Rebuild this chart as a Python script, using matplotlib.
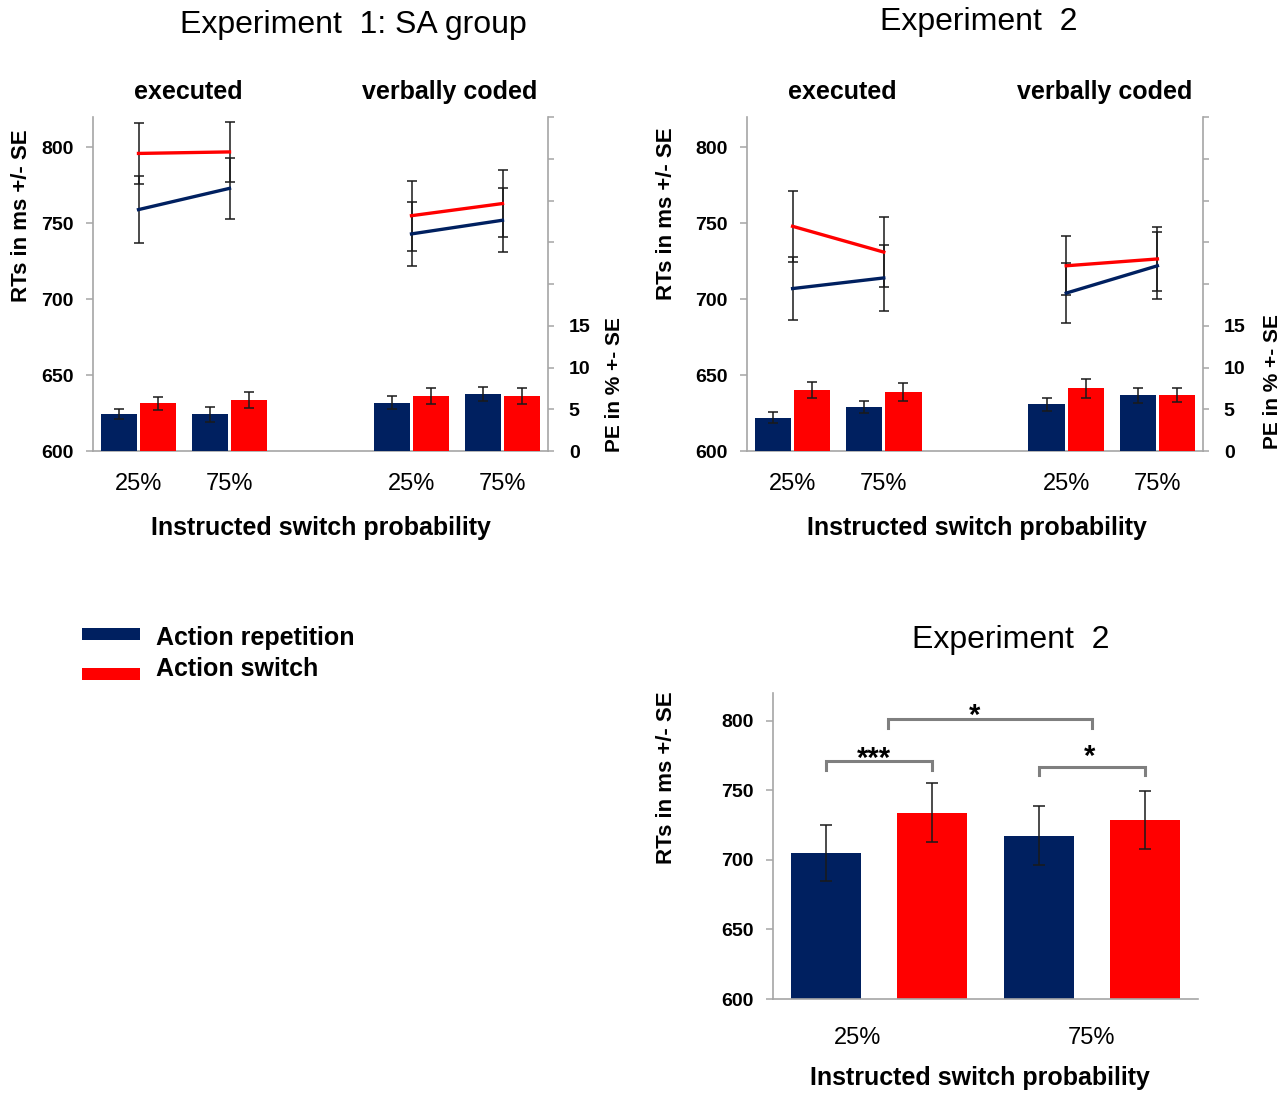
import numpy as np
import matplotlib.pyplot as plt
from matplotlib.patches import Rectangle

plt.rcParams['font.family'] = ['Liberation Sans', 'DejaVu Sans']

NAVY = '#002060'
RED = '#FF0000'
GREY = '#A6A6A6'
W, H = 1282, 1094

# ---- data (order: executed 25%, executed 75%, verbally coded 25%, verbally coded 75%)
conditions = ['executed', 'verbally coded']
probs = ['25%', '75%']
series = ['Action repetition', 'Action switch']

exp1_rt_rep = [759, 773, 743, 752]
exp1_rt_rep_se = [22, 20, 21, 21]
exp1_rt_sw = [796, 797, 755, 763]
exp1_rt_sw_se = [20, 20, 23, 22]
exp1_pe_rep = [4.4, 4.4, 5.8, 6.8]
exp1_pe_rep_se = [0.6, 0.9, 0.8, 0.85]
exp1_pe_sw = [5.7, 6.1, 6.6, 6.6]
exp1_pe_sw_se = [0.75, 0.95, 1.0, 0.95]

exp2_rt_rep = [707, 714, 704, 722]
exp2_rt_rep_se = [20.5, 21.5, 20, 22]
exp2_rt_sw = [748, 731, 722, 726.5]
exp2_rt_sw_se = [23.5, 23, 19.5, 21]
exp2_pe_rep = [4.0, 5.25, 5.6, 6.7]
exp2_pe_rep_se = [0.7, 0.7, 0.8, 0.9]
exp2_pe_sw = [7.3, 7.05, 7.5, 6.7]
exp2_pe_sw_se = [1.0, 1.05, 1.1, 0.85]

# Experiment 2, collapsed over condition
overall_rep = [705, 717.5]
overall_rep_se = [20, 21]
overall_sw = [734, 728.5]
overall_sw_se = [21, 21]

rt_ticks = [600, 650, 700, 750, 800]
pe_ticks = [0, 5, 10, 15, 20, 25, 30, 35, 40]
pe_ticklabels = ['0', '5', '10', '15', '', '', '', '', '']

# significance brackets, bottom panel: (left, right, height, label x, label y, label)
sig_brackets = [(0, 1, 771, 0.45, 767, '***'),
                (0.58, 2.5, 801, 1.4, 798, '*'),
                (2, 3, 767, 2.48, 768, '*')]


def fx(px):
    return px / W


def fy(py):
    return 1 - py / H


err_kw = dict(ecolor='#1a1a1a', elinewidth=1.1, capthick=1.1)


def top_panel(rect, rt_rep, rt_rep_se, rt_sw, rt_sw_se,
              pe_rep, pe_rep_se, pe_sw, pe_sw_se):
    ax = fig.add_axes(rect)
    x = np.array([0, 1, 3, 4])
    ax.set_xlim(-0.5, 4.5)
    ax.set_ylim(600, 820)

    ax2 = ax.twinx()
    ax2.set_ylim(0, 40)
    ax2.bar(x - 0.215, pe_rep, 0.4, color=NAVY, yerr=pe_rep_se,
            capsize=3.5, error_kw=err_kw)
    ax2.bar(x + 0.215, pe_sw, 0.4, color=RED, yerr=pe_sw_se,
            capsize=3.5, error_kw=err_kw)

    for sl in (slice(0, 2), slice(2, 4)):
        for vals, se, col in ((rt_rep, rt_rep_se, NAVY), (rt_sw, rt_sw_se, RED)):
            ax.errorbar(x[sl], np.array(vals)[sl], yerr=np.array(se)[sl],
                        color=col, lw=2.4, capsize=3.5, zorder=3, **err_kw)

    for s in ('top', 'right'):
        ax.spines[s].set_visible(False)
    for s in ('top', 'left', 'bottom'):
        ax2.spines[s].set_visible(False)
    for s in ('left', 'bottom'):
        ax.spines[s].set_color(GREY)
        ax.spines[s].set_linewidth(1.2)
    ax2.spines['right'].set_color(GREY)
    ax2.spines['right'].set_linewidth(1.2)

    ax.set_yticks(rt_ticks, [str(t) for t in rt_ticks], fontsize=14,
                  fontweight='bold')
    ax.tick_params(axis='y', direction='out', length=5, color=GREY,
                   width=1.1, pad=9)
    ax2.set_yticks(pe_ticks, pe_ticklabels, fontsize=14, fontweight='bold')
    ax2.tick_params(axis='y', direction='out', length=4, color=GREY,
                    width=1.1, pad=11)
    ax.set_xticks(x, probs * 2, fontsize=17)
    ax.tick_params(axis='x', length=0, pad=16)

    trans = ax.get_xaxis_transform()
    ax.text(0.55, 1.075, conditions[0], transform=trans, ha='center',
            va='center', fontsize=18, fontweight='bold')
    ax.text(3.42, 1.075, conditions[1], transform=trans, ha='center',
            va='center', fontsize=18, fontweight='bold')
    return ax


fig = plt.figure(figsize=(W / 100, H / 100), dpi=100)

top_panel([fx(93), fy(451), 455 / W, 334 / H],
          exp1_rt_rep, exp1_rt_rep_se, exp1_rt_sw, exp1_rt_sw_se,
          exp1_pe_rep, exp1_pe_rep_se, exp1_pe_sw, exp1_pe_sw_se)
top_panel([fx(747), fy(451), 456 / W, 334 / H],
          exp2_rt_rep, exp2_rt_rep_se, exp2_rt_sw, exp2_rt_sw_se,
          exp2_pe_rep, exp2_pe_rep_se, exp2_pe_sw, exp2_pe_sw_se)

# bottom panel
ax3 = fig.add_axes([fx(773), fy(999), 425 / W, 306 / H])
xb = np.arange(4)
ax3.bar(xb[0::2], overall_rep, 0.66, color=NAVY, yerr=overall_rep_se,
        capsize=4, error_kw=err_kw)
ax3.bar(xb[1::2], overall_sw, 0.66, color=RED, yerr=overall_sw_se,
        capsize=4, error_kw=err_kw)
ax3.set_xlim(-0.5, 3.5)
ax3.set_ylim(600, 820)
for s in ('top', 'right'):
    ax3.spines[s].set_visible(False)
for s in ('left', 'bottom'):
    ax3.spines[s].set_color(GREY)
    ax3.spines[s].set_linewidth(1.2)
ax3.set_yticks(rt_ticks, [str(t) for t in rt_ticks], fontsize=14,
               fontweight='bold')
ax3.tick_params(axis='y', direction='out', length=5, color=GREY,
                width=1.1, pad=9)
ax3.set_xticks([0.3, 2.5], probs, fontsize=17)
ax3.tick_params(axis='x', length=0, pad=20)

for x0, x1, yb, tx, ty, lab in sig_brackets:
    ax3.plot([x0, x0, x1, x1], [yb - 6, yb, yb, yb - 6], color='#7F7F7F',
             lw=2.2, solid_joinstyle='miter', clip_on=False)
    ax3.text(tx, ty, lab, ha='center', va='baseline',
             fontsize=21, fontweight='bold', clip_on=False)

# titles and axis labels
fig.text(fx(353), fy(25), 'Experiment  1: SA group', ha='center', va='center',
         fontsize=23)
fig.text(fx(979), fy(22), 'Experiment  2', ha='center', va='center',
         fontsize=23)
fig.text(fx(1011), fy(640), 'Experiment  2', ha='center', va='center',
         fontsize=23)

for px, py in ((321, 528), (977, 528), (980, 1078)):
    fig.text(fx(px), fy(py), 'Instructed switch probability', ha='center',
             va='center', fontsize=18, fontweight='bold')
for px, py in ((22, 216), (666, 214), (666, 778)):
    fig.text(fx(px), fy(py), 'RTs in ms +/- SE', ha='center', va='center',
             rotation=90, fontsize=16, fontweight='bold')
for px, py in ((615, 385), (1272, 382)):
    fig.text(fx(px), fy(py), 'PE in % +- SE', ha='center', va='center',
             rotation=90, fontsize=15, fontweight='bold')

# legend (drawn by hand: swatches sit a little apart from the text rows)
for (sy, ty), col, lab in zip(((628, 645), (668, 676)), (NAVY, RED), series):
    fig.patches.append(Rectangle((fx(82), fy(sy + 12)), 58 / W, 12 / H,
                                 transform=fig.transFigure, facecolor=col,
                                 edgecolor='none'))
    fig.text(fx(156), fy(ty), lab, ha='left', va='baseline', fontsize=18,
             fontweight='bold')

fig.savefig('out.png', dpi=100)
